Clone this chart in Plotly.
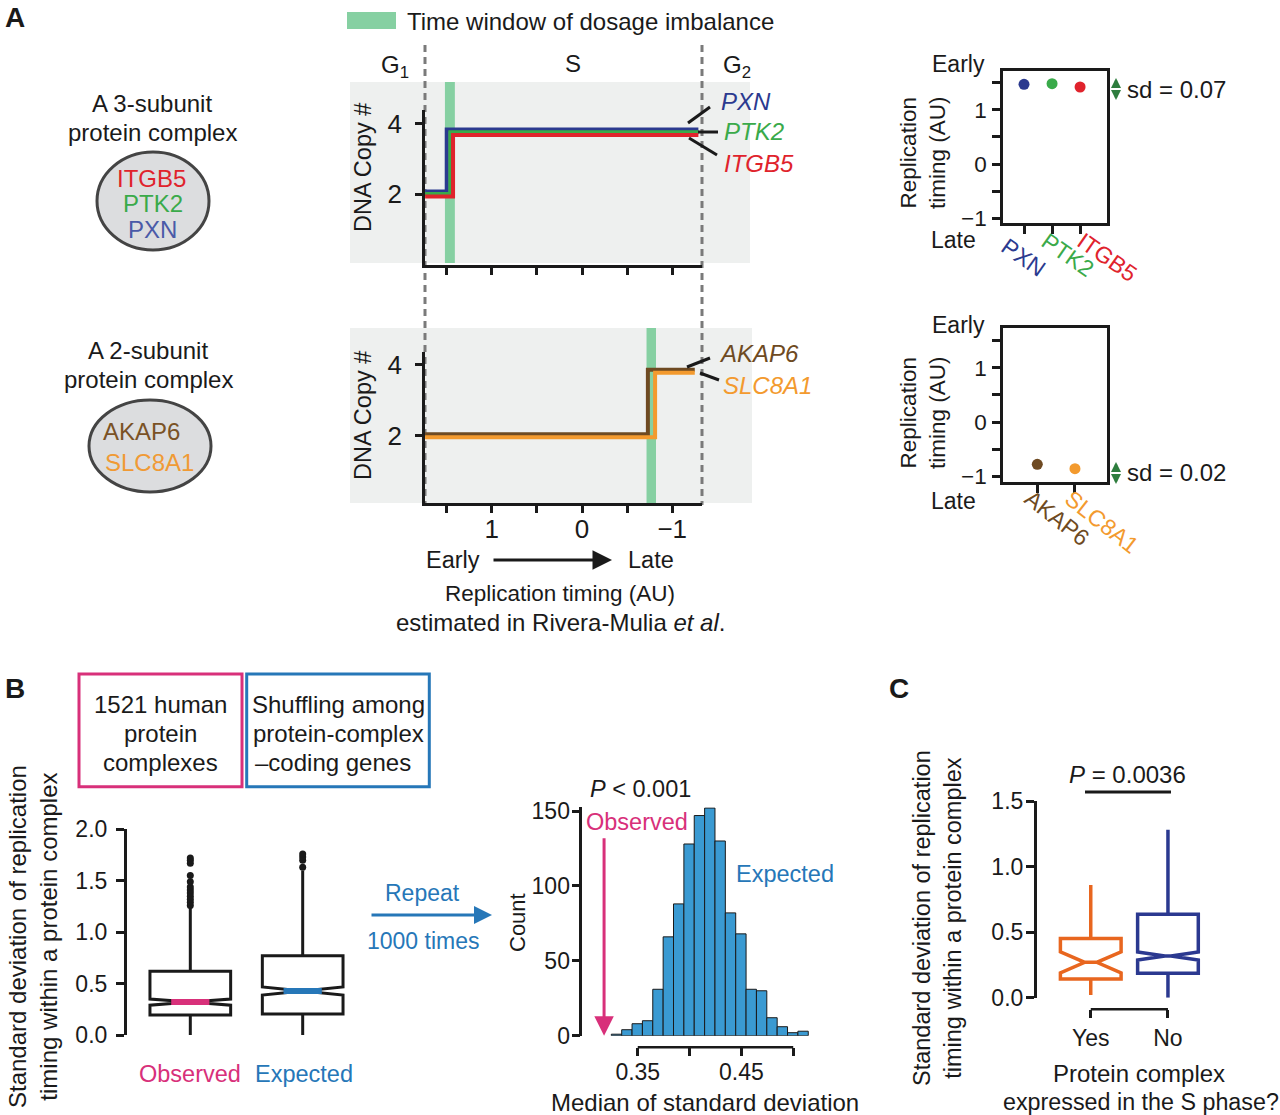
import plotly.graph_objects as go

W, H = 1280, 1115
FONT = "Liberation Sans, Arial, sans-serif"
INK = "#1a1a1a"


def fx(p):
    return p / W


def fy(p):
    return 1 - p / H


# ------------------------------------------------------------------ data
# Panel A, 3-subunit complex
top_genes = ["PXN", "PTK2", "ITGB5"]
top_colors = ["#2b3a8f", "#3aaa4a", "#e0232c"]
top_timing = [1.47, 1.48, 1.42]          # replication timing (dot plot)
top_step_at = [1.50, 1.46, 1.43]         # timing of copy-number step
top_copy_before = [2.07, 2.00, 1.93]
top_copy_after = [3.83, 3.75, 3.67]
top_window = [1.52, 1.41]
top_sd = "0.07"

# Panel A, 2-subunit complex
bot_genes = ["AKAP6", "SLC8A1"]
bot_colors = ["#6e4a22", "#f39a2e"]
bot_timing = [-0.78, -0.86]
bot_step_at = [-0.73, -0.81]
bot_copy_before = [2.05, 1.96]
bot_copy_after = [3.86, 3.78]
bot_window = [-0.715, -0.82]
bot_sd = "0.02"

step_start = 1.74
top_step_end = -1.29
bot_step_end = -1.25
timing_ticks = [1.5, 1, 0.5, 0, -0.5, -1]
timing_ticktext = ["", "1", "", "0", "", "\u22121"]

# Panel B, box plots
b_groups = ["Observed", "Expected"]
b_colors = ["#d8307a", "#2677b8"]
b_low = [0.0, 0.0]
b_q1 = [0.195, 0.204]
b_median = [0.32, 0.428]
b_q3 = [0.62, 0.771]
b_high = [1.25, 1.60]
b_notch = [0.03, 0.04]
obs_outliers = [1.26, 1.29, 1.32, 1.35, 1.38, 1.41, 1.44, 1.49, 1.55, 1.67, 1.70, 1.72]
exp_outliers = [1.63, 1.70, 1.73, 1.76, 2.12]

# Panel B, histogram of expected medians
hist_centers = [0.3295, 0.3395, 0.3495, 0.3595, 0.3695, 0.3795, 0.3895, 0.3995,
                0.4095, 0.4195, 0.4295, 0.4395, 0.4495, 0.4595, 0.4695, 0.4795,
                0.4895, 0.4995, 0.5095]
hist_counts = [1, 4, 8, 10, 31, 66, 88, 128, 147, 152, 130, 82, 68, 31, 30, 12, 6, 2, 3]
observed_median = 0.3175

# Panel C
c_groups = ["Yes", "No"]
c_colors = ["#e8661f", "#2b3990"]
c_low = [0.02, 0.0]
c_q1 = [0.143, 0.186]
c_median = [0.27, 0.318]
c_q3 = [0.452, 0.636]
c_high = [0.86, 1.28]
c_notch = [0.08, 0.03]

# ------------------------------------------------------------------ figure
fig = go.Figure()
ann = []
shapes = []


def T(x, y, text, size=24, color=INK, angle=0, xanchor="center", bold=False):
    if bold:
        text = "<b>" + text + "</b>"
    ann.append(dict(x=fx(x), y=fy(y), xref="paper", yref="paper", text=text,
                    showarrow=False, textangle=angle, xanchor=xanchor, yanchor="middle",
                    font=dict(family=FONT, size=size, color=color)))


def ARROW(x0, y0, x1, y1, color=INK, width=3, head=2, size=1.0):
    ann.append(dict(x=fx(x1), y=fy(y1), xref="paper", yref="paper", text="",
                    showarrow=True, ax=x0 - x1, ay=y0 - y1, arrowcolor=color,
                    arrowwidth=width, arrowhead=head, arrowsize=size, standoff=0,
                    startstandoff=0))


def LINE(x0, y0, x1, y1, color=INK, width=3, dash=None, layer="above"):
    shapes.append(dict(type="line", xref="paper", yref="paper", x0=fx(x0), y0=fy(y0),
                       x1=fx(x1), y1=fy(y1), layer=layer,
                       line=dict(color=color, width=width, dash=dash)))


def RECT(x0, y0, x1, y1, fill=None, line=None, lw=0, layer="below"):
    shapes.append(dict(type="rect", xref="paper", yref="paper", x0=fx(x0), y0=fy(y0),
                       x1=fx(x1), y1=fy(y1), layer=layer, fillcolor=fill,
                       line=dict(color=line if line else "rgba(0,0,0,0)", width=lw)))


# --- Panel A backgrounds & windows
RECT(350, 82, 750, 263, fill="#eef0ef")
RECT(350, 328, 752, 503, fill="#eef0ef")
for xref, win, (ya, yb) in (("x", top_window, (82, 263)), ("x2", bot_window, (328, 503))):
    shapes.append(dict(type="rect", xref=xref, yref="paper", x0=win[0], x1=win[1],
                       y0=fy(yb), y1=fy(ya), layer="below", fillcolor="#86d0a2",
                       line=dict(width=0)))
LINE(425, 45, 425, 505, color="#7a7a7a", width=3, dash="7px,5px", layer="below")
LINE(702, 45, 702, 505, color="#7a7a7a", width=3, dash="7px,5px", layer="below")

# legend
RECT(347, 12, 396, 29, fill="#86d0a2")
T(405, 21, "Time window of dosage imbalance", xanchor="left")

# step traces
for i in range(len(top_genes)):
    fig.add_trace(go.Scatter(x=[step_start, top_step_at[i], top_step_end],
                             y=[top_copy_before[i], top_copy_after[i], top_copy_after[i]],
                             mode="lines", line=dict(color=top_colors[i], width=4, shape="hv"),
                             xaxis="x", yaxis="y"))
for i in range(len(bot_genes)):
    fig.add_trace(go.Scatter(x=[step_start, bot_step_at[i], bot_step_end],
                             y=[bot_copy_before[i], bot_copy_after[i], bot_copy_after[i]],
                             mode="lines", line=dict(color=bot_colors[i], width=4, shape="hv"),
                             xaxis="x2", yaxis="y2"))

# dot plots
fig.add_trace(go.Scatter(x=list(range(len(top_genes))), y=top_timing, mode="markers",
                         marker=dict(color=top_colors, size=11), xaxis="x3", yaxis="y3"))
fig.add_trace(go.Scatter(x=list(range(len(bot_genes))), y=bot_timing, mode="markers",
                         marker=dict(color=bot_colors, size=11), xaxis="x4", yaxis="y4"))

# --- Panel B box plot
fig.add_trace(go.Box(x=[0, 1], q1=b_q1, median=b_median, q3=b_q3, lowerfence=b_low,
                     upperfence=b_high, notched=True, notchspan=b_notch, notchwidth=0.5,
                     whiskerwidth=0, width=0.718, boxpoints=False,
                     line=dict(color=INK, width=3), fillcolor="white",
                     xaxis="x5", yaxis="y5"))
for i in range(2):
    fig.add_trace(go.Scatter(x=[i - 0.17, i + 0.17], y=[b_median[i], b_median[i]],
                             mode="lines", line=dict(color=b_colors[i], width=6),
                             xaxis="x5", yaxis="y5"))
fig.add_trace(go.Scatter(x=[0] * len(obs_outliers), y=obs_outliers, mode="markers",
                         marker=dict(color=INK, size=7), cliponaxis=False,
                         xaxis="x5", yaxis="y5"))
fig.add_trace(go.Scatter(x=[1] * len(exp_outliers), y=exp_outliers, mode="markers",
                         marker=dict(color=INK, size=7), cliponaxis=False,
                         xaxis="x5", yaxis="y5"))

# --- Panel B histogram
fig.add_trace(go.Bar(x=hist_centers, y=hist_counts, width=0.01,
                     marker=dict(color="#3a9ad2", line=dict(color=INK, width=1)),
                     xaxis="x6", yaxis="y6"))
shapes.append(dict(type="line", xref="x6", yref="paper", x0=0.35, x1=0.50,
                   y0=fy(1047.3), y1=fy(1047.3), line=dict(color=INK, width=2.5)))

# --- Panel C
c_notchwidth = [0.4, 0.45]
for i in range(2):
    fig.add_trace(go.Box(x=[i], q1=[c_q1[i]], median=[c_median[i]], q3=[c_q3[i]],
                         lowerfence=[c_low[i]], upperfence=[c_high[i]], notched=True,
                         notchspan=[c_notch[i]], notchwidth=c_notchwidth[i], whiskerwidth=0,
                         width=0.786, boxpoints=False,
                         line=dict(color=c_colors[i], width=3.5), fillcolor="white",
                         xaxis="x7", yaxis="y7"))
shapes.append(dict(type="line", xref="x7", yref="paper", x0=0, x1=1,
                   y0=fy(1009.3), y1=fy(1009.3), line=dict(color=INK, width=2.5)))

# ------------------------------------------------------------------ axes
def ax_style(fs=23, **kw):
    d = dict(showline=True, linecolor=INK, linewidth=2.5, ticks="outside", tickcolor=INK,
             tickwidth=2.5, ticklen=8, showgrid=False, zeroline=False, automargin=False,
             tickfont=dict(family=FONT, size=fs, color=INK), fixedrange=True)
    d.update(kw)
    return d


layout_axes = dict(
    xaxis=ax_style(domain=[fx(425), fx(702)], range=[1.741, -1.33], anchor="y",
                   tickvals=timing_ticks, showticklabels=False),
    yaxis=ax_style(fs=26, domain=[fy(264.7), fy(110)], range=[0, 4.38], anchor="x",
                   tickvals=[2, 4], ticklen=7, ticklabelstandoff=8),
    xaxis2=ax_style(fs=26, domain=[fx(425), fx(702)], range=[1.741, -1.33], anchor="y2",
                    tickvals=timing_ticks, ticktext=timing_ticktext, ticklabelstandoff=-7),
    yaxis2=ax_style(fs=26, domain=[fy(502.7), fy(351.7)], range=[0.12, 4.37], anchor="x2",
                    tickvals=[2, 4], ticklen=7, ticklabelstandoff=8),
    xaxis3=ax_style(domain=[fx(1003), fx(1107)], range=[-0.75, 2.96], anchor="y3",
                    mirror=True, tickvals=[0, 1, 2], showticklabels=False, ticklen=9),
    yaxis3=ax_style(fs=22.5, domain=[fy(222.7), fy(70.7)], range=[-1.08, 1.72], anchor="x3",
                    mirror=True, tickvals=timing_ticks, ticktext=timing_ticktext,
                    ticklabelstandoff=1),
    xaxis4=ax_style(domain=[fx(1003), fx(1107)], range=[-0.91, 1.85], anchor="y4",
                    mirror=True, tickvals=[0, 1], showticklabels=False, ticklen=9),
    yaxis4=ax_style(fs=22.5, domain=[fy(481.7), fy(328.3)], range=[-1.1, 1.73], anchor="x4",
                    mirror=True, tickvals=timing_ticks, ticktext=timing_ticktext,
                    ticklabelstandoff=1),
    xaxis5=dict(domain=[fx(126.7), fx(360)], range=[-0.566, 1.51], anchor="y5",
                visible=False, fixedrange=True, automargin=False),
    yaxis5=ax_style(domain=[fy(1035), fy(829.3)], range=[0, 2], anchor="x5",
                    tickvals=[0, 0.5, 1, 1.5, 2],
                    ticktext=["0.0", "0.5", "1.0", "1.5", "2.0"], ticklabelstandoff=4),
    xaxis6=ax_style(domain=[fx(582.3), fx(815)], range=[0.2965, 0.521], anchor="free",
                    position=fy(1047.3), showline=False,
                    tickvals=[0.35, 0.40, 0.45, 0.50], ticktext=["0.35", "", "0.45", ""],
                    ticklabelstandoff=-4),
    yaxis6=ax_style(domain=[fy(1035.7), fy(807.3)], range=[0, 152.5], anchor="x6",
                    tickvals=[0, 50, 100, 150], ticklabelstandoff=-3),
    xaxis7=ax_style(domain=[fx(1036.7), fx(1220)], range=[-0.7, 1.674], anchor="free",
                    position=fy(1009.3), showline=False, tickvals=[0, 1],
                    ticktext=c_groups, ticklabelstandoff=0),
    yaxis7=ax_style(domain=[fy(997.7), fy(801)], range=[0, 1.5], anchor="x7",
                    tickvals=[0, 0.5, 1, 1.5], ticktext=["0.0", "0.5", "1.0", "1.5"],
                    ticklabelstandoff=-2),
)

# ------------------------------------------------------------------ text, Panel A
T(15, 18, "A", size=28, bold=True)
T(15, 688, "B", size=28, bold=True)
T(899, 688, "C", size=28, bold=True)

T(395, 66, "G<sub>1</sub>")
T(573, 64, "S")
T(737, 66, "G<sub>2</sub>")

T(363, 168, "DNA Copy #", size=23.5, angle=-90)
T(363, 416, "DNA Copy #", size=23.5, angle=-90)

top_label_y = [101, 132, 163]
top_label_x = [719, 722, 722]
top_leaders = [(688, 123, 710, 107), (698, 132, 718, 132), (689, 138, 717, 155)]
for i, g in enumerate(top_genes):
    T(top_label_x[i], top_label_y[i], "<i>%s</i>" % g, color=top_colors[i], xanchor="left")
    LINE(*top_leaders[i], width=3)
bot_label_y = [354, 385]
bot_label_x = [717, 721]
bot_leaders = [(687, 367, 710, 358), (700, 373, 719, 380)]
for i, g in enumerate(bot_genes):
    T(bot_label_x[i], bot_label_y[i], "<i>%s</i>" % g, color=bot_colors[i], xanchor="left")
    LINE(*bot_leaders[i], width=3)

T(453, 560, "Early", size=23.5)
T(651, 560, "Late", size=23.5)
ARROW(492, 560, 612, 560, width=3, head=2, size=1.3)
T(560, 593, "Replication timing (AU)", size=22.5)
T(560, 622, "estimated in Rivera-Mulia <i>et al</i>.")

# complexes
T(152, 104, "A 3-subunit")
T(152, 133, "protein complex")
shapes.append(dict(type="circle", xref="paper", yref="paper", x0=fx(97), x1=fx(209),
                   y0=fy(250), y1=fy(152), fillcolor="#dcdddf",
                   line=dict(color="#444444", width=3), layer="below"))
T(151, 178, "ITGB5", color="#e0232c")
T(153, 203, "PTK2", color="#3aaa4a")
T(152, 229, "PXN", color="#4a5aa8")

T(148, 350, "A 2-subunit")
T(148, 379, "protein complex")
shapes.append(dict(type="circle", xref="paper", yref="paper", x0=fx(89), x1=fx(211),
                   y0=fy(492), y1=fy(400), fillcolor="#dcdddf",
                   line=dict(color="#444444", width=3), layer="below"))
T(141, 432, "AKAP6", color="#7a5226")
T(149, 462, "SLC8A1", color="#f09a35")

# dot plot texts
T(958, 64, "Early", size=23)
T(953, 240, "Late", size=23)
T(923, 153, "Replication<br>timing (AU)", size=22.5, angle=-90)
T(958, 325, "Early", size=23)
T(953, 501, "Late", size=23)
T(923, 413, "Replication<br>timing (AU)", size=22.5, angle=-90)

top_rot = [(1023, 257), (1068, 255), (1107, 257)]
for i, g in enumerate(top_genes):
    T(top_rot[i][0], top_rot[i][1], g, size=23, color=top_colors[i], angle=35)
bot_rot = [(1057, 518), (1102, 522)]
for i, g in enumerate(bot_genes):
    T(bot_rot[i][0], bot_rot[i][1], g, size=23, color=bot_colors[i], angle=38)

SDG = "#2e7d3e"
for (yc, y0, y1, txt) in ((89, 78, 100, top_sd), (473, 462, 484, bot_sd)):
    ARROW(1116, yc, 1116, y0, color=SDG, width=2.5, head=2, size=0.8)
    ARROW(1116, yc, 1116, y1, color=SDG, width=2.5, head=2, size=0.8)
    T(1125, yc, "sd = " + txt, xanchor="left")

# ------------------------------------------------------------------ text, Panel B
RECT(79, 674, 242, 786.7, line=b_colors[0], lw=3, layer="above")
RECT(246.7, 674, 429.3, 786.7, line=b_colors[1], lw=3, layer="above")
T(160, 704, "1521 human")
T(160, 733, "protein")
T(160, 762, "complexes")
T(338, 704, "Shuffling among")
T(338, 733, "protein-complex")
T(333, 762, "\u2013coding genes")

T(33, 937, "Standard deviation of replication<br>timing within a protein complex", angle=-90)
T(190, 1074, b_groups[0], size=23.5, color=b_colors[0])
T(304, 1074, b_groups[1], size=23.5, color=b_colors[1])

T(422, 893, "Repeat", size=23, color=b_colors[1])
ARROW(370, 915, 492, 915, color=b_colors[1], width=3, head=2, size=1.2)
T(423, 941, "1000 times", size=23, color=b_colors[1])

T(640, 789, "<i>P</i> &lt; 0.001", size=23.5)
T(637, 822, "Observed", size=23.5, color=b_colors[0])
ann.append(dict(x=observed_median, y=0, xref="x6", yref="y6", text="", showarrow=True,
                ax=0, ay=-199, arrowcolor=b_colors[0], arrowwidth=3, arrowhead=2,
                arrowsize=1.3, standoff=0))
T(785, 874, "Expected", size=23.5, color=b_colors[1])
T(517, 923, "Count", size=22, angle=-90)
T(705, 1102, "Median of standard deviation")

# ------------------------------------------------------------------ text, Panel C
T(1127, 774, "<i>P</i> = 0.0036")
LINE(1085, 792, 1171, 792, width=3)
T(1139, 1073, "Protein complex")
T(1141, 1102, "expressed in the S phase?", size=23.3)
T(937, 918, "Standard deviation of replication<br>timing within a protein complex", size=23.5,
  angle=-90)

fig.update_layout(
    template="none",
    width=W, height=H, margin=dict(l=0, r=0, t=0, b=0, pad=0), autosize=False,
    paper_bgcolor="white", plot_bgcolor="rgba(0,0,0,0)",
    showlegend=False, hovermode=False,
    font=dict(family=FONT, size=23, color=INK),
    annotations=ann, shapes=shapes, **layout_axes,
)

fig.write_html("out.html", config={"displayModeBar": False},
               post_script="document.body.style.margin='0px';")
